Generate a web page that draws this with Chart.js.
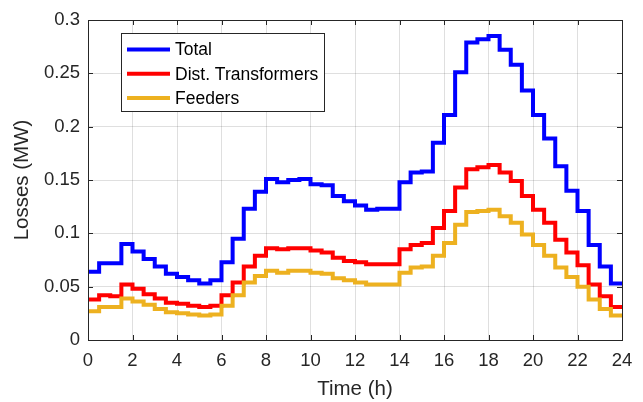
<!DOCTYPE html>
<html>
<head>
<meta charset="utf-8">
<script src="https://cdn.jsdelivr.net/npm/chart.js@4"></script>
<style>
  html, body { margin: 0; padding: 0; background: #fff; }
  #wrap { width: 643px; height: 402px; }
</style>
</head>
<body>
<div id="wrap"><canvas id="lossChart" width="643" height="402"></canvas></div>
<script>
// step start times (h), last entry closes the final step
const hours = [0, 0.5, 1, 1.5, 2, 2.5, 3, 3.5, 4, 4.5, 5, 5.5, 6, 6.5, 7, 7.5,
  8, 8.5, 9, 9.5, 10, 10.5, 11, 11.5, 12, 12.5, 13, 13.5, 14, 14.5, 15, 15.5,
  16, 16.5, 17, 17.5, 18, 18.5, 19, 19.5, 20, 20.5, 21, 21.5, 22, 22.5, 23, 23.5, 24];

const totalLoss = [0.064, 0.072, 0.072, 0.090, 0.083, 0.076, 0.069, 0.062, 0.059, 0.056, 0.053, 0.056, 0.073, 0.095, 0.123, 0.139,
  0.151, 0.148, 0.150, 0.151, 0.146, 0.145, 0.135, 0.130, 0.126, 0.122, 0.123, 0.123, 0.148, 0.157, 0.158, 0.185,
  0.211, 0.251, 0.279, 0.282, 0.285, 0.272, 0.258, 0.234, 0.211, 0.189, 0.163, 0.140, 0.121, 0.089, 0.069, 0.053];

const transformerLoss = [0.038, 0.042, 0.041, 0.052, 0.048, 0.043, 0.039, 0.035, 0.034, 0.032, 0.031, 0.032, 0.042, 0.054, 0.069, 0.079,
  0.086, 0.085, 0.086, 0.086, 0.084, 0.082, 0.077, 0.074, 0.073, 0.071, 0.071, 0.071, 0.085, 0.089, 0.091, 0.105,
  0.121, 0.143, 0.160, 0.162, 0.164, 0.157, 0.149, 0.135, 0.122, 0.110, 0.094, 0.082, 0.070, 0.052, 0.041, 0.031];

const feederLoss = [0.027, 0.031, 0.031, 0.039, 0.036, 0.033, 0.029, 0.026, 0.025, 0.024, 0.023, 0.024, 0.032, 0.042, 0.054, 0.060,
  0.065, 0.063, 0.065, 0.065, 0.063, 0.062, 0.058, 0.056, 0.054, 0.052, 0.052, 0.052, 0.063, 0.068, 0.069, 0.079,
  0.091, 0.108, 0.120, 0.121, 0.122, 0.116, 0.110, 0.099, 0.089, 0.079, 0.068, 0.059, 0.050, 0.038, 0.029, 0.023];

const seriesNames = ['Total', 'Dist. Transformers', 'Feeders'];
const seriesColors = ['#0000ff', '#ff0000', '#edb120'];

const axisColor = '#262626';
const fontFamily = "'Liberation Sans', Arial, Helvetica, sans-serif";

// stairs: repeat the last value so the final step reaches 24 h
const toSteps = (vals) => hours.map((h, i) => ({x: h, y: vals[Math.min(i, vals.length - 1)]}));

const makeSet = (i, vals) => ({
  label: seriesNames[i],
  data: toSteps(vals),
  borderColor: seriesColors[i],
  backgroundColor: seriesColors[i],
  borderWidth: 4,
  stepped: 'before',
  pointRadius: 0,
  fill: false,
  order: 3 - i
});

// MATLAB-like box with inward ticks and an inside legend
const boxPlugin = {
  id: 'boxPlugin',
  afterDatasetsDraw(chart) {
    const {ctx, chartArea: a, scales: {x, y}} = chart;
    ctx.save();
    ctx.strokeStyle = axisColor;
    ctx.lineWidth = 1;
    ctx.strokeRect(a.left + 0.5, a.top + 0.5, a.right - a.left, a.bottom - a.top);
    const tl = 5;
    ctx.beginPath();
    x.ticks.forEach(t => {
      const px = Math.round(x.getPixelForValue(t.value)) + 0.5;
      ctx.moveTo(px, a.bottom); ctx.lineTo(px, a.bottom - tl);
      ctx.moveTo(px, a.top); ctx.lineTo(px, a.top + tl);
    });
    y.ticks.forEach(t => {
      const py = Math.round(y.getPixelForValue(t.value)) + 0.5;
      ctx.moveTo(a.left, py); ctx.lineTo(a.left + tl, py);
      ctx.moveTo(a.right, py); ctx.lineTo(a.right - tl, py);
    });
    ctx.stroke();

    // legend
    const lx = 121, ly = 33, lw = 203, lh = 78;
    ctx.fillStyle = '#fff';
    ctx.fillRect(lx, ly, lw, lh);
    ctx.strokeStyle = axisColor;
    ctx.strokeRect(lx + 0.5, ly + 0.5, lw, lh);
    ctx.font = '17.5px ' + fontFamily;
    ctx.textBaseline = 'middle';
    chart.data.datasets.forEach((ds, i) => {
      const cy = ly + 16.5 + i * 24.2;
      ctx.strokeStyle = ds.borderColor;
      ctx.lineWidth = 4;
      ctx.beginPath();
      ctx.moveTo(127, cy); ctx.lineTo(170, cy);
      ctx.stroke();
      ctx.fillStyle = '#000';
      ctx.fillText(ds.label, 175, cy + 1);
    });
    ctx.restore();
  }
};

const lossChart = new Chart(document.getElementById('lossChart'), {
  type: 'line',
  data: {
    datasets: [makeSet(0, totalLoss), makeSet(1, transformerLoss), makeSet(2, feederLoss)]
  },
  options: {
    responsive: false,
    animation: false,
    layout: {padding: {left: 0, right: 21, top: 20, bottom: 0}},
    plugins: {legend: {display: false}, tooltip: {enabled: false}},
    scales: {
      x: {
        type: 'linear',
        min: 0,
        max: 24,
        afterFit: (s) => { s.height = 62; },
        ticks: {stepSize: 2, color: axisColor, padding: 10, maxRotation: 0,
          font: {family: fontFamily, size: 18.5}},
        grid: {color: 'rgba(38,38,38,0.15)', drawTicks: false},
        border: {display: false},
        title: {display: true, text: 'Time (h)', color: axisColor,
          font: {family: fontFamily, size: 20.5}, padding: {top: 0, bottom: 0}}
      },
      y: {
        min: 0,
        max: 0.3,
        afterFit: (s) => { s.width = 88; },
        ticks: {stepSize: 0.05, color: axisColor, padding: 8,
          font: {family: fontFamily, size: 18.5},
          callback: (v) => String(parseFloat(Number(v).toFixed(2)))},
        grid: {color: 'rgba(38,38,38,0.15)', drawTicks: false},
        border: {display: false},
        title: {display: true, text: 'Losses (MW)', color: axisColor,
          font: {family: fontFamily, size: 20.5}, padding: {top: 10, bottom: 0}}
      }
    }
  },
  plugins: [boxPlugin]
});
</script>
</body>
</html>
